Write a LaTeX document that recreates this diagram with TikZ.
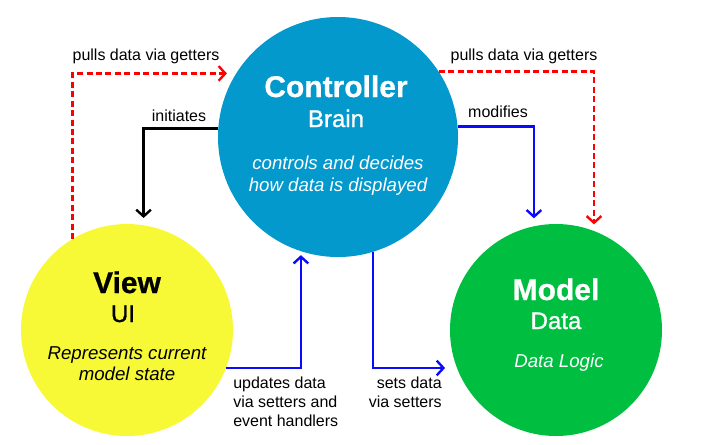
\documentclass[tikz,border=0pt]{standalone}
\usepackage{fontspec}
\setmainfont{Liberation Sans}
\newfontfamily\mediumfont[FakeBold=1.2]{Liberation Sans}
\newfontfamily\heavyfont[FakeBold=0.6]{Liberation Sans Bold}
\usepackage{xcolor}
\usepackage{tikz}
\usetikzlibrary{arrows.meta}
\definecolor{ctrlblue}{HTML}{0399CC}
\definecolor{viewyellow}{HTML}{F8F936}
\definecolor{modelgreen}{HTML}{00BE40}
\definecolor{linkblue}{HTML}{0A0AFF}

\begin{document}
\begin{tikzpicture}[x=0.75pt, y=-0.75pt,
		ball/.style={shape=circle, inner sep=0pt, outer sep=0pt},
		title/.style={anchor=base, font=\heavyfont\fontsize{22.5}{27}\selectfont},
		sub/.style={anchor=base, font=\mediumfont\fontsize{18}{22}\selectfont},
		desc/.style={anchor=base, font=\itshape\fontsize{14}{17}\selectfont},
		lbl/.style={anchor=base, inner sep=0pt, font=\fontsize{12}{14}\selectfont},
		link/.style={line width=1.8pt, -{Straight Barb[length=5pt, width=11pt]}},
		getter/.style={link, draw=red, dash pattern=on 4.5pt off 2.6pt}]
		\useasboundingbox (0,0) rectangle (710,444);

		\node[ball, fill=ctrlblue, minimum size=180pt] (ctrl) at (338,137) {};
		\node[ball, fill=viewyellow, minimum size=159pt] (view) at (127,330) {};
		\node[ball, fill=modelgreen, minimum size=159pt] (model) at (556,330) {};

		\node[title, white] (c1) at (336,97) {Controller};
		\node[sub, white] (c2) at (336,127) {Brain};
		\node[desc, white] (c3) at (338,169) {controls and decides};
		\node[desc, white] (c4) at (338,191) {how data is displayed};

		\node[title] (v1) at (127,293) {View};
		\node[sub] (v2) at (123,322) {UI};
		\node[desc] (v3) at (127,359) {Represents current};
		\node[desc] (v4) at (127,380) {model state};

		\node[title, white] (m1) at (556,300) {Model};
		\node[sub, white] (m2) at (556,329) {Data};
		\node[desc, white] (m3) at (559,367) {Data Logic};

		\node[lbl] (l1) at (146,60) {pulls data via getters};
		\node[lbl] (l2) at (524,60) {pulls data via getters};
		\node[lbl] (l3) at (179,121) {initiates};
		\node[lbl] (l4) at (498,117) {modifies};
		\node[lbl, anchor=north west, align=left] (l5) at (233,377) {updates data\\via setters and\\event handlers};
		\node[lbl, anchor=north east, align=right] (l6) at (442,377) {sets data\\via setters};

		\draw [getter, shorten >=7pt] (view.121) |- (ctrl.148);
		\draw [getter, shorten >=5pt] (ctrl.33) -| (model.69);
		\draw [link, draw=black, shorten >=5.5pt] (ctrl.176) -| (view.81);
		\draw [link, draw=linkblue, shorten >=6pt] (ctrl.5) -| (model.102);
		\draw [link, draw=linkblue, shorten >=3pt] (view.-21) -| (ctrl.-108);
		\draw [link, draw=linkblue, shorten >=9pt] (ctrl.-73) |- (model.-159);
\end{tikzpicture}
\end{document}
